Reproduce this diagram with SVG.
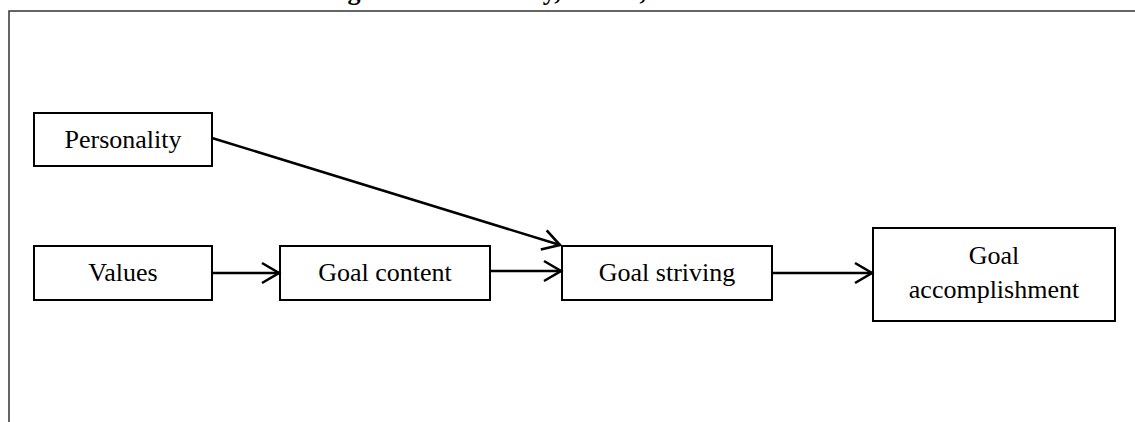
<svg xmlns="http://www.w3.org/2000/svg" width="1135" height="422" viewBox="0 0 1135 422">
<defs>
<style>
.box{fill:#fff;stroke:#000;stroke-width:2}
.lbl{font-family:"Liberation Serif","Times New Roman",serif;font-size:26px;fill:#000;text-anchor:middle}
.conn{stroke:#000;stroke-width:2.5;fill:none}
.ttl{font-family:"Liberation Serif","Times New Roman",serif;font-size:26px;font-weight:bold;fill:#000;text-anchor:middle}
</style>
<marker id="arr" markerWidth="22" markerHeight="24" refX="19" refY="12" orient="auto" markerUnits="userSpaceOnUse">
<path d="M2,2 L19,12 L2,22" fill="none" stroke="#000" stroke-width="2.6"/>
</marker>
</defs>
<rect width="1135" height="422" fill="#fff"/>
<text class="ttl" x="574" y="0">Figure 1. Personality, Values, and Motivation</text>
<path d="M9,422 L9,11 L1135,11" fill="none" stroke="#333" stroke-width="1.5"/>
<g id="personality"><rect class="box" x="34" y="113" width="178" height="53"/><text class="lbl" x="123" y="148">Personality</text></g>
<g id="values"><rect class="box" x="34" y="246" width="178" height="54"/><text class="lbl" x="123" y="281">Values</text></g>
<g id="goal-content"><rect class="box" x="280" y="246" width="210" height="54"/><text class="lbl" x="385" y="281">Goal content</text></g>
<g id="goal-striving"><rect class="box" x="562" y="246" width="210" height="54"/><text class="lbl" x="667" y="281">Goal striving</text></g>
<g id="goal-accomplishment"><rect class="box" x="873" y="228" width="242" height="93"/><text class="lbl" x="994" y="264">Goal</text><text class="lbl" x="994" y="298">accomplishment</text></g>
<g id="connectors">
<line class="conn" x1="212" y1="138" x2="560" y2="245" marker-end="url(#arr)"/>
<line class="conn" x1="212" y1="273" x2="279" y2="273" marker-end="url(#arr)"/>
<line class="conn" x1="490" y1="271" x2="561" y2="271" marker-end="url(#arr)"/>
<line class="conn" x1="772" y1="273" x2="872" y2="273" marker-end="url(#arr)"/>
</g>
</svg>
